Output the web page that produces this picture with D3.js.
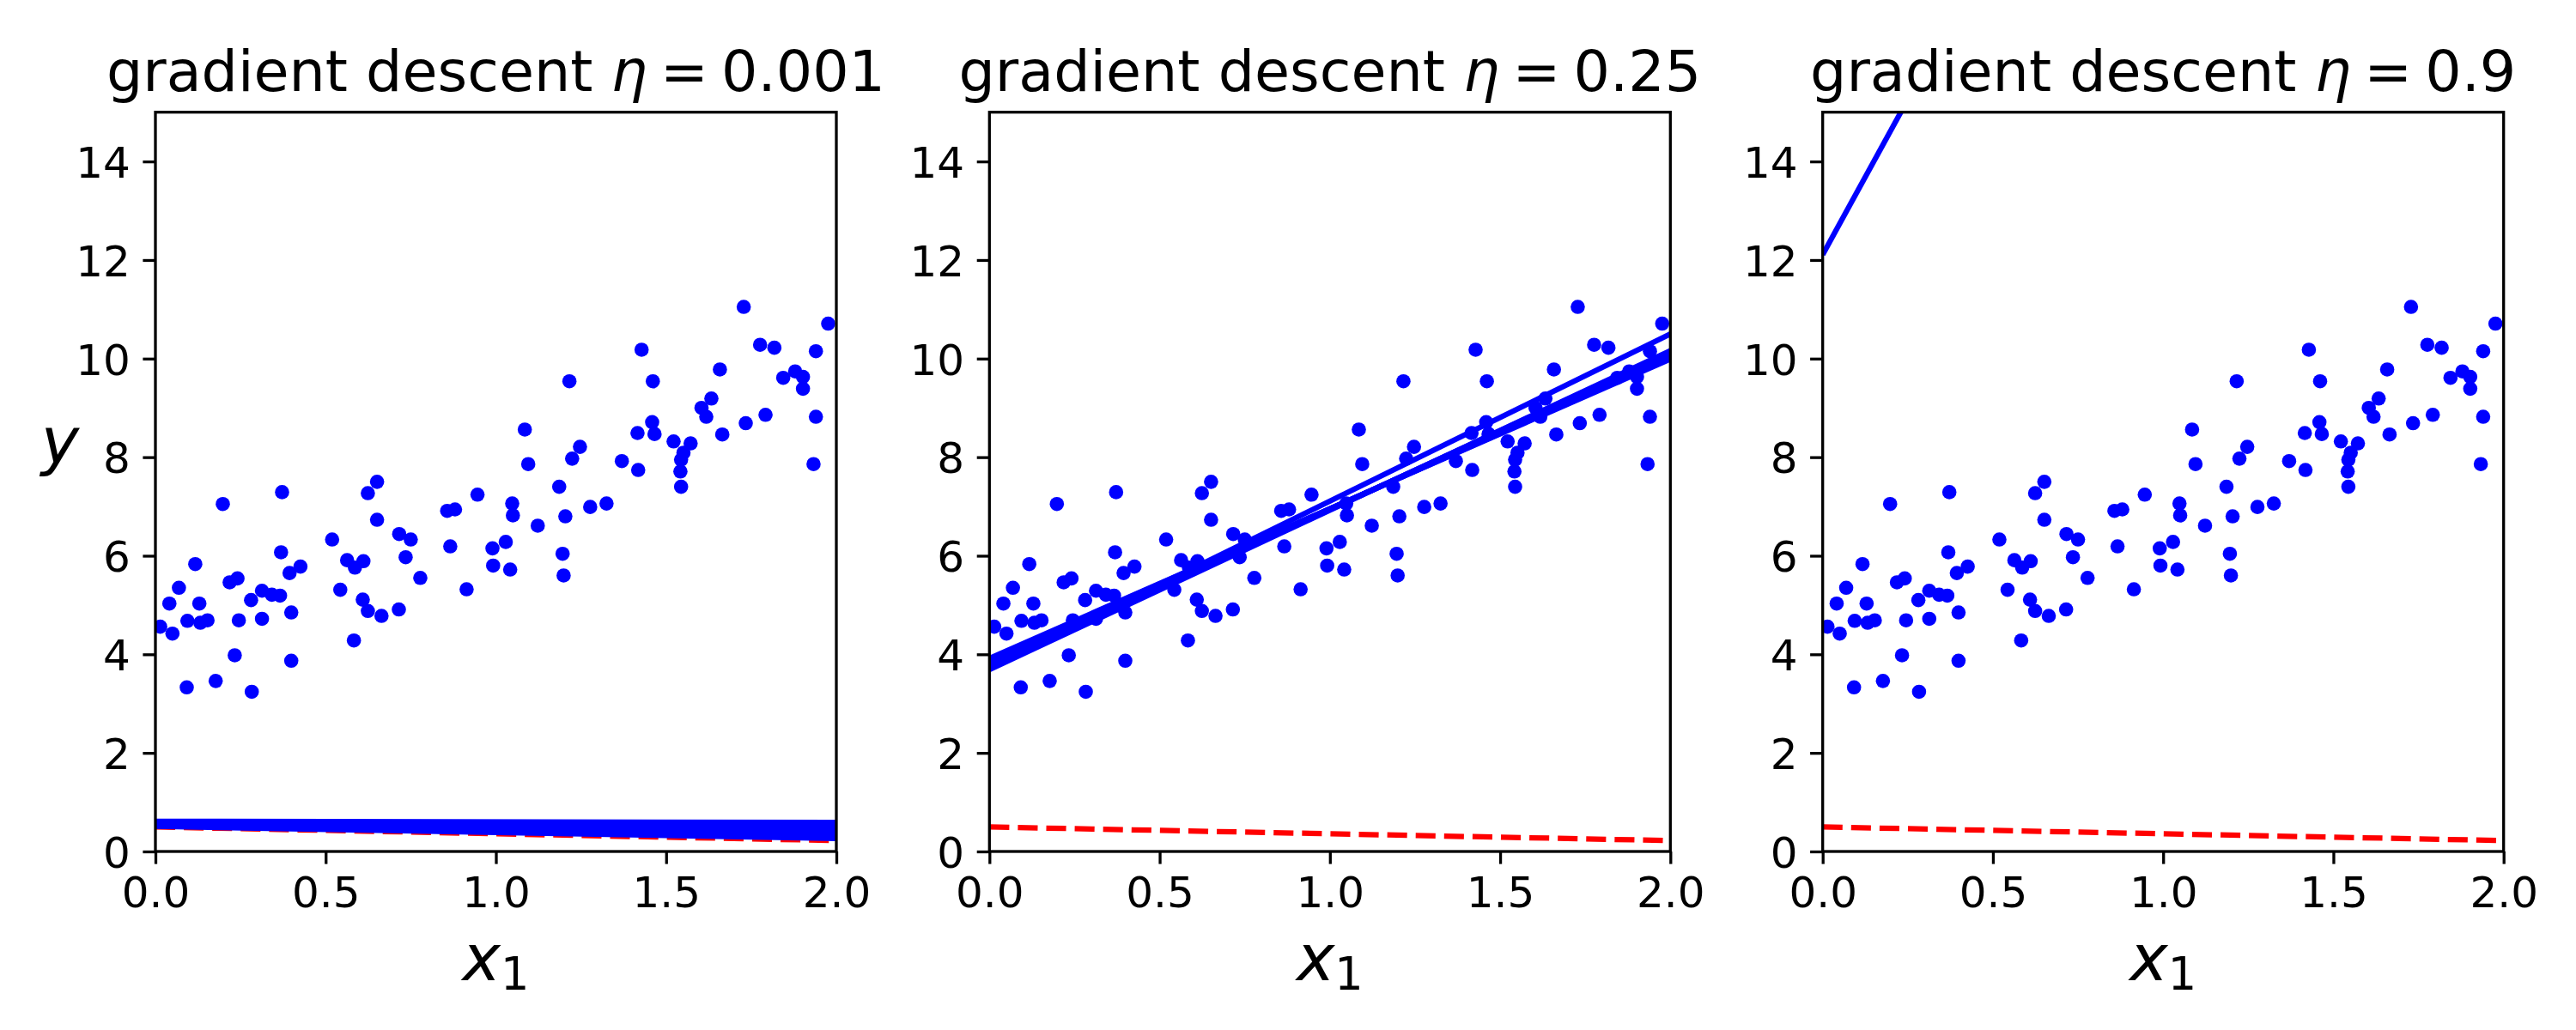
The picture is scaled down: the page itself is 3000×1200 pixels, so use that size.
<!DOCTYPE html>
<html lang="en">
<head>
<meta charset="utf-8">
<title>Gradient descent with three learning rates</title>
<script src="https://cdn.jsdelivr.net/npm/d3@7"></script>
<style>
	body { margin: 0; background: white; }
	text { font-family: "DejaVu Sans", sans-serif; fill: black; }
	.axis text { font-size: 50px; }
	.axis line { stroke: black; stroke-width: 3.3; }
</style>
</head>
<body>
<script>

// scatter points, same in every panel
var xs = [0.372,0.198,0.369,0.117,0.426,0.394,0.241,0.218,0.069,0.313,0.342,0.366,0.281,0.041,0.129,0.399,0.094,0.132,0.153,0.245,
	0.313,0.014,0.050,0.233,0.399,0.177,0.092,0.283,
	0.651,0.624,0.946,0.857,0.880,0.651,0.716,0.750,0.519,0.866,0.990,0.992,0.563,0.611,0.586,0.735,0.778,0.914,0.543,0.609,
	0.624,0.664,0.715,0.583,
	1.428,1.216,1.461,1.459,1.416,1.466,1.085,1.095,1.247,1.224,1.370,1.418,1.186,1.048,1.050,1.277,1.325,1.204,1.123,1.029,
	1.042,1.196,1.199,
	1.728,1.976,1.776,1.818,1.940,1.658,1.879,1.902,1.844,1.902,1.633,1.604,1.618,1.792,1.734,1.940,1.665,1.522,1.572,1.551,
	1.544,1.542,1.544,1.933];
var ys = [7.29,7.05,6.07,5.83,5.78,5.65,5.54,5.46,5.35,5.29,5.21,5.19,5.10,5.03,5.03,4.85,4.68,4.64,4.69,4.69,
	4.72,4.56,4.42,3.98,3.87,3.46,3.33,3.24,
	7.50,7.27,7.24,6.91,6.94,6.73,6.44,6.33,6.33,6.19,6.15,5.80,5.91,5.89,5.76,5.97,5.55,5.32,5.31,5.11,
	4.88,4.78,4.91,4.28,
	10.18,9.54,9.54,8.71,8.49,8.47,8.56,7.86,8.21,7.97,7.92,7.74,7.40,7.06,6.82,6.99,7.06,6.80,6.61,6.28,
	5.72,6.04,5.60,
	11.05,10.71,10.28,10.22,10.15,9.78,9.74,9.63,9.61,9.39,9.19,9.00,8.82,8.86,8.69,8.82,8.46,8.32,8.28,8.09,
	7.95,7.71,7.40,7.86];

var etaLabels = ["0.001", "0.25", "0.9"];

// prediction lines, one per iteration: value at x=0 and value at x=2
// first one is the random start (red dashed)
var lineStarts = [
	[0.497, 0.510, 0.523, 0.535, 0.548, 0.561, 0.574, 0.587, 0.600, 0.613],
	[0.497, 3.72, 3.69, 3.73, 3.77, 3.81, 3.84, 3.87, 3.90, 3.92],
	[0.497, 12.11, -18.6, 64.5, -159.3]   // later ones leave the plot
];
var lineEnds = [
	[0.221, 0.262, 0.303, 0.343, 0.384, 0.425, 0.466, 0.507, 0.548, 0.589],
	[0.221, 10.50, 10.16, 10.14, 10.11, 10.08, 10.05, 10.03, 10.01, 9.99],
	[0.221, 37.3, -62.8, 206.3, -519.3]
];

var xTicks = [0, 0.5, 1, 1.5, 2];
var yTicks = [0, 2, 4, 6, 8, 10, 12, 14];

//Width and height
var w = 3000;
var h = 1200;
var panelLeft = [181, 1152.3, 2122.7];
var axW = 793;
var axTop = 130.7;
var axH = 861.3;

var svg = d3.select("body")
	.append("svg")
	.attr("width", w)
	.attr("height", h);

var xScale = d3.scaleLinear().domain([0, 2]).range([0, axW]);
var yScale = d3.scaleLinear().domain([0, 15]).range([axH, 0]);

var points = xs.map(function(d, i) { return [d, ys[i]]; });

var line = d3.line()
	.x(function(d) { return xScale(d[0]); })
	.y(function(d) { return yScale(d[1]); });

etaLabels.forEach(function(eta, p) {

	var g = svg.append("g")
		.attr("transform", "translate(" + panelLeft[p] + "," + axTop + ")");

	g.append("clipPath")
		.attr("id", "clip" + p)
		.append("rect")
		.attr("width", axW)
		.attr("height", axH);

	var plot = g.append("g").attr("clip-path", "url(#clip" + p + ")");

	// data points
	plot.selectAll("circle")
		.data(points)
		.enter()
		.append("circle")
		.attr("cx", function(d) { return xScale(d[0]); })
		.attr("cy", function(d) { return yScale(d[1]); })
		.attr("r", 8.3)
		.attr("fill", "#0000ff");

	// one line per iteration
	var segs = lineStarts[p].map(function(s, i) { return [[0, s], [2, lineEnds[p][i]]]; });
	plot.selectAll("path.iter")
		.data(segs)
		.enter()
		.append("path")
		.attr("class", "iter")
		.attr("d", line)
		.attr("fill", "none")
		.attr("stroke", function(d, i) { return i == 0 ? "#ff0000" : "#0000ff"; })
		.attr("stroke-width", 6.25)
		.attr("stroke-dasharray", function(d, i) { return i == 0 ? "23.1,10" : null; });

	// axes
	var xAxis = d3.axisBottom(xScale)
		.tickValues(xTicks)
		.tickFormat(d3.format(".1f"))
		.tickSize(14.6)
		.tickSizeOuter(0)
		.tickPadding(14.6);

	var yAxis = d3.axisLeft(yScale)
		.tickValues(yTicks)
		.tickFormat(d3.format("d"))
		.tickSize(14.6)
		.tickSizeOuter(0)
		.tickPadding(14.6);

	var gx = g.append("g")
		.attr("class", "axis")
		.attr("transform", "translate(0," + axH + ")")
		.call(xAxis);
	var gy = g.append("g")
		.attr("class", "axis")
		.call(yAxis);

	[gx, gy].forEach(function(a) {
		a.attr("font-family", null).attr("font-size", null);
		a.select(".domain").remove();
	});
	gy.selectAll("text").attr("dy", "0.364em");

	// frame
	g.append("rect")
		.attr("width", axW)
		.attr("height", axH)
		.attr("fill", "none")
		.attr("stroke", "black")
		.attr("stroke-width", 3.3);

	// title (spaces round "=" a bit tighter, like mathtext)
	var t = g.append("text")
		.attr("x", axW / 2)
		.attr("y", -25)
		.attr("text-anchor", "middle")
		.attr("font-size", 66.7);
	t.append("tspan").text("gradient descent ");
	t.append("tspan").attr("font-style", "italic").text("η");
	t.append("tspan").attr("dx", -6).text(" =");
	t.append("tspan").attr("dx", -6).text(" " + eta);

	// x label
	var xl = g.append("text")
		.attr("x", axW / 2)
		.attr("y", 1142 - axTop)
		.attr("text-anchor", "middle")
		.attr("font-size", 75);
	xl.append("tspan").attr("font-style", "italic").text("x");
	xl.append("tspan").attr("font-size", 52.5).attr("dy", 11).text("1");

	if (p == 0) {
		g.append("text")
			.attr("x", 70 - panelLeft[0])
			.attr("y", 540 - axTop)
			.attr("text-anchor", "middle")
			.attr("font-size", 75)
			.attr("font-style", "italic")
			.text("y");
	}
});

</script>
</body>
</html>
